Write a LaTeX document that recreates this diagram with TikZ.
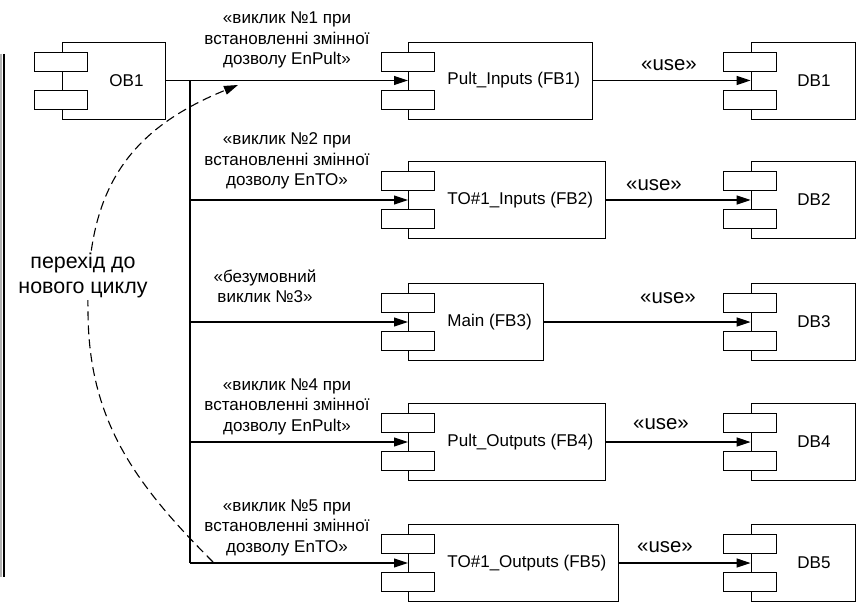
\documentclass[tikz,border=0pt]{standalone}
\usepackage{fontspec}
\setmainfont{Liberation Sans}
\usetikzlibrary{arrows.meta,calc}

\newcommand\txt{\fontsize{17.1}{20.5}\selectfont}
\newcommand\bigtxt{\fontsize{20.5}{24}\selectfont}
\newcommand\cyctxt{\fontsize{21.5}{25}\selectfont}
% two small port rectangles on the left side of a component
\newcommand\compports[1]{%
  \node[port] (#1-a) at ($(#1.west)+(-0.5,-19)$) {};
  \node[port] (#1-b) at ($(#1.west)+(-0.5,19)$) {};}

\begin{document}
\begin{tikzpicture}[x=1bp,y=-1bp,
  box/.style={draw, fill=white, line width=0.9bp, minimum height=77bp,
    inner xsep=12bp, inner ysep=0pt, font=\txt},
  port/.style={draw, fill=white, line width=0.9bp, minimum width=53bp,
    minimum height=19bp, inner sep=0pt},
  conn/.style={line width=1.1bp, -{Triangle[length=14bp,width=9bp]}},
  lbl/.style={font=\txt, align=center, inner sep=1bp},
  uselbl/.style={font=\bigtxt, inner sep=1bp},
  loop/.style={line width=1.1bp, dash pattern=on 9bp off 5bp,
    -{Triangle[length=14bp,width=9bp]}}]

\useasboundingbox (0,0) rectangle (865,606);

% frame edge on the left
\draw[gray!60, line width=2bp] (1.2,54) -- (1.2,577);
\draw[line width=2.4bp] (4,54) -- (4,577);

% organisation block
\node[box, minimum width=103bp] (ob1) at (113.5,80.5) {\hspace*{26bp}OB1};
\compports{ob1}

% function blocks
\node[box, anchor=west] (fb1) at (408,80.5) {\hspace*{27bp}Pult\_Inputs (FB1)};
\compports{fb1}
\node[box, anchor=west] (fb2) at (408,200) {\hspace*{27bp}TO\#1\_Inputs (FB2)};
\compports{fb2}
\node[box, anchor=west] (fb3) at (408,322) {\hspace*{27bp}Main (FB3)};
\compports{fb3}
\node[box, anchor=west] (fb4) at (408,442) {\hspace*{27bp}Pult\_Outputs (FB4)};
\compports{fb4}
\node[box, anchor=west] (fb5) at (408,563) {\hspace*{27bp}TO\#1\_Outputs (FB5)};
\compports{fb5}

% data blocks
\node[box, minimum width=104bp] (db1) at (803,80.5) {\hspace*{22bp}DB1};
\compports{db1}
\node[box, minimum width=104bp] (db2) at (803,200) {\hspace*{22bp}DB2};
\compports{db2}
\node[box, minimum width=104bp] (db3) at (803,322) {\hspace*{22bp}DB3};
\compports{db3}
\node[box, minimum width=104bp] (db4) at (803,442) {\hspace*{22bp}DB4};
\compports{db4}
\node[box, minimum width=104bp] (db5) at (803,563) {\hspace*{22bp}DB5};
\compports{db5}

% call tree from OB1
\coordinate (j) at (190,80.5);
\draw[conn] (ob1.east) -- (fb1.west);
\draw[line width=1.1bp] (j) -- (j |- fb5.west);
\draw[conn] (j |- fb2.west) -- (fb2.west);
\draw[conn] (j |- fb3.west) -- (fb3.west);
\draw[conn] (j |- fb4.west) -- (fb4.west);
\draw[conn] (j |- fb5.west) -- (fb5.west);

% use relations
\draw[conn] (fb1.east) -- (db1.west);
\draw[conn] (fb2.east) -- (db2.west);
\draw[conn] (fb3.east) -- (db3.west);
\draw[conn] (fb4.east) -- (db4.west);
\draw[conn] (fb5.east) -- (db5.west);
\node[uselbl] (u1) at (669,65) {«use»};
\node[uselbl] (u2) at (654,185) {«use»};
\node[uselbl] (u3) at (668,298) {«use»};
\node[uselbl] (u4) at (661,424) {«use»};
\node[uselbl] (u5) at (665,547) {«use»};

% call conditions
\node[lbl] (c1) at (287,40) {«виклик №1 при\\встановленні змінної\\дозволу EnPult»};
\node[lbl] (c2) at (287,161) {«виклик №2 при\\встановленні змінної\\дозволу EnTO»};
\node[lbl] (c3) at (265,286.5) {«безумовний\\виклик №3»};
\node[lbl] (c4) at (287,406.5) {«виклик №4 при\\встановленні змінної\\дозволу EnPult»};
\node[lbl] (c5) at (287,527.5) {«виклик №5 при\\встановленні змінної\\дозволу EnTO»};

% return to a new cycle
\coordinate (ls) at (213,562);
\coordinate (le) at (238,85);
\draw[loop] (ls) .. controls (135,484) and (88,420) .. (88,310)
  .. controls (86,190) and (128,130) .. (le);
\node[lbl, font=\cyctxt, fill=white, inner sep=2bp] (cyc) at (83,275.5) {перехід до\\нового циклу};
\end{tikzpicture}
\end{document}
